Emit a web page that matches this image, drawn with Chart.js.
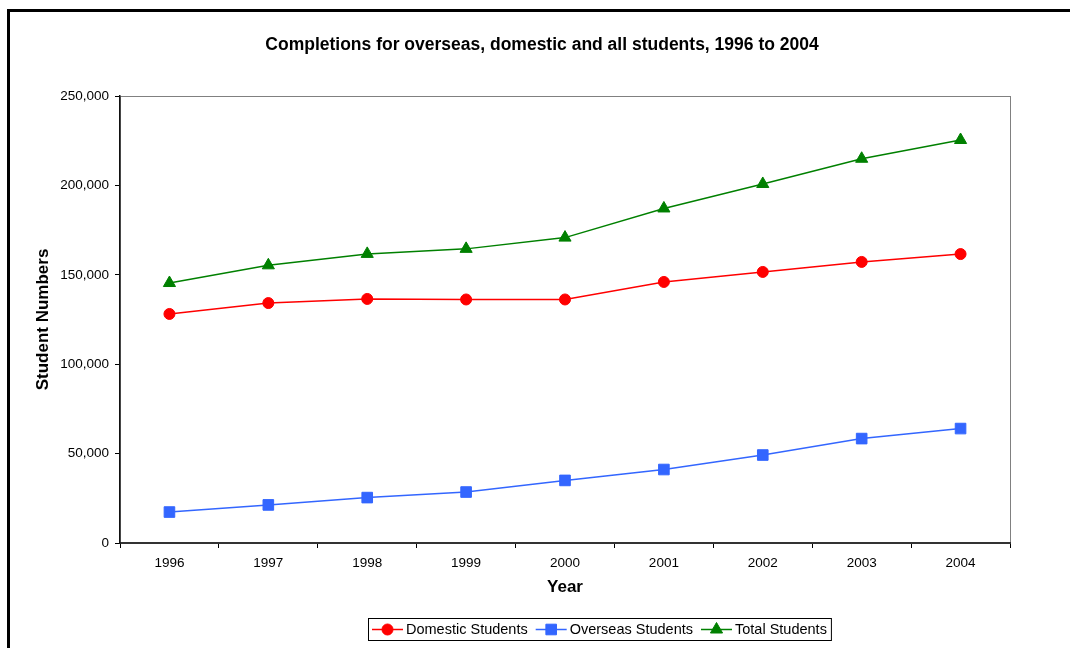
<!DOCTYPE html>
<html>
<head>
<meta charset="utf-8">
<script src="https://cdn.jsdelivr.net/npm/chart.js@4/dist/chart.umd.min.js"></script>
<style>
  html, body { margin: 0; padding: 0; background: #fff; overflow: hidden; }
  canvas { display: block; }
</style>
</head>
<body>
<canvas id="chart-completions" width="1070" height="648"></canvas>
<script>
const years = ['1996', '1997', '1998', '1999', '2000', '2001', '2002', '2003', '2004'];
const domestic = [128100, 134200, 136500, 136200, 136200, 146000, 151600, 157200, 161600];
const overseas = [17300, 21300, 25400, 28500, 35000, 41100, 49200, 58400, 64000];
const total = [145400, 155300, 161700, 164500, 170800, 187100, 200800, 214900, 225400];
const yTicks = [0, 50000, 100000, 150000, 200000, 250000];

const chartTitle = 'Completions for overseas, domestic and all students, 1996 to 2004';
const fontFamily = '"Liberation Sans", Arial, Helvetica, sans-serif';

// Frame, plot border and the title
const framePlugin = {
  id: 'frame',
  beforeDraw(chart) {
    const ctx = chart.ctx;
    const a = chart.chartArea;
    ctx.save();
    ctx.fillStyle = '#fff';
    ctx.fillRect(0, 0, chart.width, chart.height);
    ctx.strokeStyle = '#000';
    ctx.lineWidth = 3;
    ctx.strokeRect(8.5, 10.5, 1200, 800);
    ctx.strokeStyle = '#808080';
    ctx.lineWidth = 1;
    ctx.strokeRect(a.left + 0.5, a.top + 0.5, a.right - a.left, a.bottom - a.top);
    ctx.fillStyle = '#000';
    ctx.font = 'bold 17.5px ' + fontFamily;
    ctx.textAlign = 'center';
    ctx.textBaseline = 'middle';
    ctx.fillText(chartTitle, 542, 45);
    ctx.restore();
  }
};

// Excel style legend: line with marker, inside a box
const legendPlugin = {
  id: 'excelLegend',
  afterDraw(chart) {
    const ctx = chart.ctx;
    ctx.save();
    ctx.font = '14.5px ' + fontFamily;
    const lineLen = 31, gapText = 3, gapItem = 8, pad = 4;
    const sets = chart.data.datasets;
    let width = pad * 2;
    sets.forEach((ds, i) => {
      width += lineLen + gapText + ctx.measureText(ds.label).width;
      if (i < sets.length - 1) width += gapItem;
    });
    const cx = 599, top = 618, h = 22;
    let x = Math.round(cx - width / 2);
    ctx.strokeStyle = '#000';
    ctx.lineWidth = 1;
    ctx.strokeRect(x + 0.5, top + 0.5, width, h);
    const midY = top + h / 2 + 0.5;
    x += pad;
    sets.forEach((ds) => {
      ctx.strokeStyle = ds.borderColor;
      ctx.lineWidth = ds.borderWidth;
      ctx.beginPath();
      ctx.moveTo(x, midY);
      ctx.lineTo(x + lineLen, midY);
      ctx.stroke();
      ctx.fillStyle = ds.backgroundColor;
      ctx.lineWidth = 1;
      Chart.helpers.drawPoint(ctx, {
        pointStyle: ds.pointStyle, radius: ds.pointRadius, borderWidth: 1, rotation: 0
      }, x + lineLen / 2, midY);
      x += lineLen + gapText;
      ctx.fillStyle = '#000';
      ctx.textAlign = 'left';
      ctx.textBaseline = 'middle';
      ctx.fillText(ds.label, x, midY);
      x += ctx.measureText(ds.label).width + gapItem;
    });
    ctx.restore();
  }
};

function lineSet(label, data, color, style, radius) {
  return {
    label: label,
    data: data,
    borderColor: color,
    backgroundColor: color,
    borderWidth: 1.5,
    pointStyle: style,
    pointRadius: radius,
    pointHoverRadius: radius,
    pointBorderWidth: 1,
    tension: 0
  };
}

let ctx = document.getElementById('chart-completions');
let chart = new Chart(ctx, {
  type: 'line',
  data: {
    labels: years,
    datasets: [
      lineSet('Domestic Students', domestic, '#FF0000', 'circle', 5.5),
      lineSet('Overseas Students', overseas, '#3366FF', 'rect', 7.5),
      lineSet('Total Students', total, '#008000', 'triangle', 7)
    ]
  },
  options: {
    responsive: false,
    animation: false,
    devicePixelRatio: 1,
    layout: { padding: { left: 7, top: 96, right: 60, bottom: 45 } },
    plugins: {
      legend: { display: false },
      title: { display: false },
      tooltip: { enabled: false }
    },
    scales: {
      x: {
        offset: true,
        grid: {
          offset: true,
          drawOnChartArea: false,
          drawTicks: true,
          tickLength: 5,
          color: '#000'
        },
        border: { color: '#333', width: 2 },
        ticks: {
          color: '#000',
          font: { family: fontFamily, size: 13.5 },
          padding: 7,
          maxRotation: 0
        },
        title: {
          display: true,
          text: 'Year',
          color: '#000',
          font: { family: fontFamily, size: 17, weight: 'bold' },
          padding: { top: 0, bottom: 5 }
        },
        afterFit(scale) { scale.height = 60; }
      },
      y: {
        min: 0,
        max: 250000,
        afterBuildTicks(scale) { scale.ticks = yTicks.map(v => ({ value: v })); },
        grid: {
          drawOnChartArea: false,
          drawTicks: true,
          tickLength: 5,
          color: '#000'
        },
        border: { color: '#111', width: 1.5 },
        ticks: {
          color: '#000',
          font: { family: fontFamily, size: 13.5 },
          padding: 6,
          callback: v => v.toLocaleString('en-US')
        },
        title: {
          display: true,
          text: 'Student Numbers',
          color: '#000',
          font: { family: fontFamily, size: 17, weight: 'bold' },
          padding: { top: 26, bottom: 0 }
        },
        afterFit(scale) { scale.width = 113; }
      }
    }
  },
  plugins: [framePlugin, legendPlugin]
});
</script>
</body>
</html>
